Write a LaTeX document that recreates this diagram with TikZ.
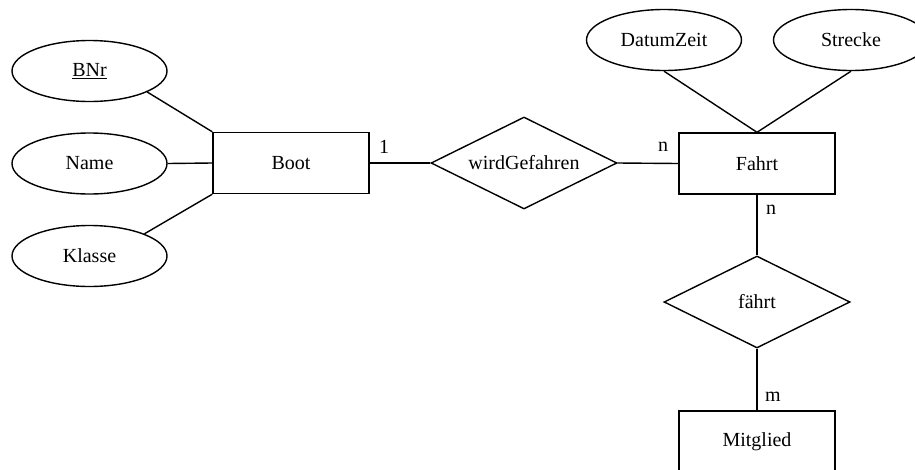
\documentclass[tikz,border=0pt]{standalone}
\usepackage{fontspec}
\setmainfont{Liberation Serif}
\usetikzlibrary{shapes.geometric}
\begin{document}
\begin{tikzpicture}[x=1pt,y=-1pt,
  every node/.style={font=\fontsize{20}{22}\selectfont},
  conn/.style={line width=1.4pt},
  attr/.style={draw,ellipse,line width=1.4pt,minimum width=155pt,minimum height=61pt,inner sep=0pt},
  entity/.style={draw,rectangle,line width=1.4pt,minimum width=156pt,minimum height=61pt,inner sep=0pt},
  rel/.style={draw,diamond,aspect=2.02,line width=1.4pt,minimum width=186pt,minimum height=92pt,inner sep=0pt},
  card/.style={inner sep=0pt}]
\useasboundingbox (0,0) rectangle (915,469);
\node[attr] (bnr) at (89.5,71) {\underline{BNr}};
\node[attr] (name) at (89.5,163.5) {Name};
\node[attr] (klasse) at (89.5,256) {Klasse};
\node[entity] (boot) at (291,163) {Boot};
\node[rel] (wg) at (524,163) {wirdGefahren};
\node[entity] (fahrt) at (757,163.5) {Fahrt};
\node[attr] (datum) at (664,40) {DatumZeit};
\node[attr] (strecke) at (851,40) {Strecke};
\node[rel] (faehrt) at (757,302) {fährt};
\node[entity] (mitglied) at (757,441.5) {Mitglied};
\node[card] (c1) at (384,147) {1};
\node[card] (c2) at (663,147) {n};
\node[card] (c3) at (771,210) {n};
\node[card] (c4) at (773,397) {m};
\draw[conn] (bnr.-20) -- (boot.north west);
\draw[conn] (name.east) -- (boot.west);
\draw[conn] (klasse.22) -- (boot.south west);
\draw[conn] (boot.east) -- (wg.west);
\draw[conn] (wg.east) -- (fahrt.west);
\draw[conn] (datum.south) -- (fahrt.north);
\draw[conn] (strecke.south) -- (fahrt.north);
\draw[conn] (fahrt.south) -- (faehrt.north);
\draw[conn] (faehrt.south) -- (mitglied.north);
\end{tikzpicture}
\end{document}
